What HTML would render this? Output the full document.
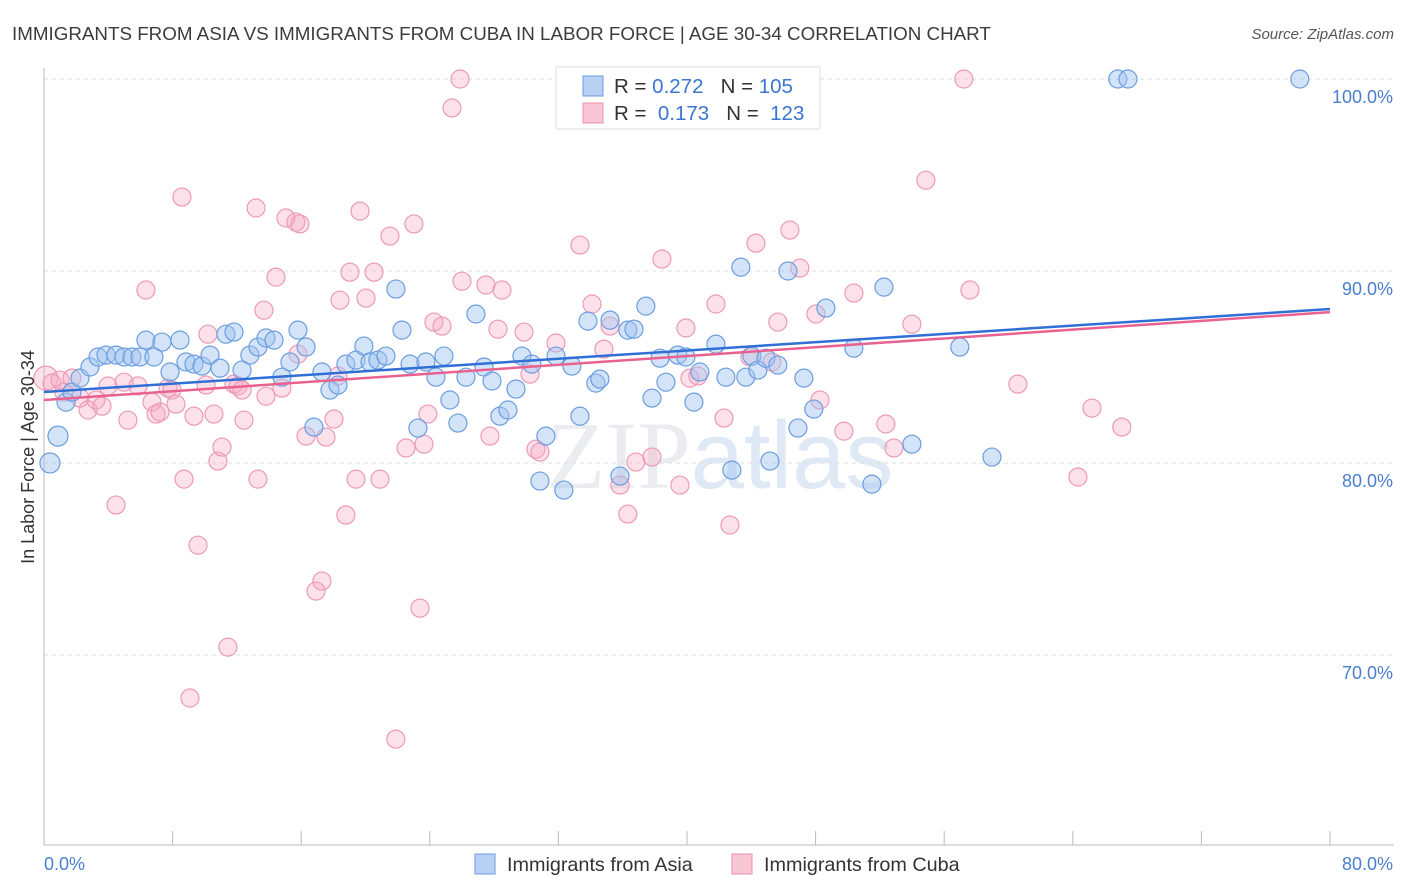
<!DOCTYPE html>
<html><head><meta charset="utf-8"><style>
body{margin:0;background:#fff;font-family:"Liberation Sans",sans-serif;}
#wrap{position:relative;width:1406px;height:892px;overflow:hidden;}
</style></head><body>
<div id="wrap">
<svg id="svg" width="1406" height="892" xmlns="http://www.w3.org/2000/svg">
<text x="12" y="40" font-size="18.8" fill="#3c3c3c">IMMIGRANTS FROM ASIA VS IMMIGRANTS FROM CUBA IN LABOR FORCE | AGE 30-34 CORRELATION CHART</text>
<text x="1394" y="39" font-size="15" fill="#555" font-style="italic" text-anchor="end">Source: ZipAtlas.com</text>
<text x="720" y="488" font-size="96" fill="#eaecef" text-anchor="middle" font-family="Liberation Serif,serif">ZIP<tspan fill="#dfe8f5" font-family="Liberation Sans,sans-serif">atlas</tspan></text>
<g id="grid"></g><g id="axes"></g><g id="pts"></g><g id="trend"></g>
<text transform="translate(34,457) rotate(-90)" font-size="18" fill="#333" text-anchor="middle">In Labor Force | Age 30-34</text>
<g>
<rect x="556" y="67" width="264" height="62" fill="#fff" stroke="#ddd"/>
<rect x="583" y="76" width="20" height="20" fill="#b8d0f3" stroke="#6b9de0"/>
<rect x="583" y="103" width="20" height="20" fill="#f8c6d5" stroke="#e890ad"/>
<text x="614" y="93" font-size="20.5" fill="#333">R = <tspan fill="#3a75d1">0.272</tspan>&#160;&#160;&#160;N = <tspan fill="#3a75d1">105</tspan></text>
<text x="614" y="120" font-size="20.5" fill="#333">R = &#160;<tspan fill="#3a75d1">0.173</tspan>&#160;&#160;&#160;N = &#160;<tspan fill="#3a75d1">123</tspan></text>
</g>
<g>
<rect x="475" y="854" width="20" height="20" fill="#b8d0f3" stroke="#6b9de0"/>
<text x="507" y="871" font-size="19.8" fill="#333">Immigrants from Asia</text>
<rect x="732" y="854" width="20" height="20" fill="#f8c6d5" stroke="#e890ad"/>
<text x="764" y="871" font-size="19.8" fill="#333">Immigrants from Cuba</text>
</g>
</svg>
<script>
const asiaX=[0.37,0.87,1.37,1.74,2.24,2.86,3.36,3.86,4.48,4.98,5.47,5.97,6.34,6.84,7.34,7.84,8.46,8.83,9.33,9.83,10.33,10.95,11.32,11.82,12.32,12.81,13.31,13.81,14.31,14.8,15.3,15.8,16.3,16.79,17.29,17.79,18.29,18.78,19.41,19.9,20.28,20.77,21.27,21.89,22.27,22.77,23.26,23.76,24.38,24.88,25.25,25.75,26.25,26.87,27.37,27.87,28.36,28.86,29.36,29.73,30.35,30.85,31.22,31.85,32.34,32.84,33.34,33.84,34.33,34.58,35.21,35.83,36.32,36.7,37.44,37.82,38.32,38.69,39.43,39.93,40.43,40.8,41.8,42.42,42.79,43.35,43.66,44.04,44.41,44.91,45.16,45.65,46.28,46.9,47.27,47.89,48.64,50.38,51.5,52.25,53.99,56.97,58.97,66.8,67.43,78.12];
const asiaY=[80.0,81.4,83.17,83.69,84.42,85.0,85.52,85.62,85.62,85.52,85.52,85.52,86.4,85.52,86.3,84.74,86.4,85.26,85.15,85.05,85.62,84.94,86.71,86.82,84.84,85.62,86.04,86.51,86.4,84.47,85.26,86.92,86.04,81.87,84.74,83.8,84.06,85.15,85.36,86.09,85.26,85.36,85.57,89.06,86.92,85.15,81.82,85.26,84.47,85.57,83.28,82.08,84.47,87.76,85.0,84.27,82.44,82.76,83.85,85.57,85.15,79.06,81.4,85.57,78.59,85.05,82.44,87.39,84.16,84.37,87.44,79.32,86.92,86.97,88.17,83.38,85.46,84.21,85.62,85.52,83.17,84.74,86.19,84.47,79.63,90.2,84.47,85.57,84.84,85.46,80.1,85.1,90.0,81.82,84.42,82.81,88.07,85.98,78.9,89.16,80.98,86.04,80.31,100,100,100];
const cubaX=[0.12,0.5,1.0,1.24,1.74,2.24,2.74,3.23,3.61,3.98,4.48,4.98,5.22,5.85,6.34,6.72,6.97,7.22,7.71,7.96,8.21,8.58,8.71,9.08,9.33,9.58,10.08,10.2,10.57,10.82,11.07,11.44,11.82,12.07,12.32,12.44,13.19,13.31,13.68,13.81,14.43,14.8,15.05,15.67,15.8,15.92,16.3,16.92,17.29,17.54,18.04,18.29,18.41,18.78,19.03,19.41,19.66,20.03,20.53,20.9,21.52,21.89,22.52,23.01,23.39,23.64,23.88,24.26,24.76,25.38,25.88,26.0,27.49,27.74,28.24,28.49,29.86,30.23,30.6,30.85,31.85,32.47,33.34,34.09,34.83,35.21,35.83,36.32,36.82,37.82,38.44,39.56,39.93,40.18,40.68,41.8,42.3,42.67,43.91,44.29,45.28,45.65,46.4,47.02,48.02,48.27,49.76,50.38,52.37,52.87,53.99,54.86,57.22,57.6,60.58,64.32,65.19,67.05];
const cubaY=[84.42,84.16,84.32,83.69,84.42,83.38,82.76,83.28,82.96,84.01,77.81,84.21,82.23,84.01,89.01,83.17,82.55,82.65,83.9,83.8,83.07,93.85,79.16,67.76,82.44,75.72,84.06,86.71,82.55,80.1,80.83,70.41,84.11,84.01,83.8,82.23,93.28,79.16,87.96,83.48,89.68,83.9,92.76,92.55,85.67,92.45,81.4,73.33,73.85,81.35,82.29,84.53,88.48,77.29,89.94,79.16,93.12,88.59,89.94,79.16,91.82,65.62,80.78,92.45,72.44,80.98,82.55,87.34,87.13,98.49,100,89.47,89.27,81.4,86.97,89.01,86.82,84.63,80.72,80.57,86.25,100,91.35,88.28,85.93,87.13,78.85,77.34,80.05,80.31,90.62,78.85,87.03,84.42,84.53,88.28,82.34,76.77,85.52,91.45,85.26,87.34,92.13,90.15,87.76,83.28,81.66,88.85,82.03,80.78,87.23,94.73,100,89.01,84.11,79.27,82.86,81.87];
const yTicks=[70,80,90,100];
const yTickLabels=["70.0%","80.0%","90.0%","100.0%"];
const xTicks=[0,8,16,24,32,40,48,56,64,72,80];
const xTickLabels=["0.0%","80.0%"];
const asiaTrend=[83.7,88.02];
const cubaTrend=[83.28,87.86];
const NS="http://www.w3.org/2000/svg";
const sx=v=>44+v/80*1286;
const sy=v=>79+(100-v)*19.2;
function mk(tag,attrs,parent){const e=document.createElementNS(NS,tag);for(const k in attrs)e.setAttribute(k,attrs[k]);document.getElementById(parent).appendChild(e);return e;}
yTicks.forEach((t,i)=>{
  const l=mk('line',{x1:44,x2:1394,y1:sy(t),y2:sy(t),stroke:'#ddd','stroke-dasharray':'4,4'},'grid');
  
  
  const tx=mk('text',{x:1393,y:sy(t)+24,'font-size':18,fill:'#4a7fd0','text-anchor':'end'},'grid');
  tx.textContent=yTickLabels[i];
  
  
});
const ya=mk('line',{x1:44,x2:44,y1:68,y2:845,stroke:'#bbb'},'axes');


const xa=mk('line',{x1:44,x2:1394,y1:845,y2:845,stroke:'#bbb'},'axes');


xTicks.forEach(t=>{
  const l=mk('line',{x1:sx(t),x2:sx(t),y1:831,y2:845,stroke:'#bbb'},'axes');
  
  
});
const xl0=mk('text',{x:44,y:870,'font-size':18,fill:'#4a7fd0'},'axes');
xl0.textContent=xTickLabels[0];


const xl1=mk('text',{x:1393,y:870,'font-size':18,fill:'#4a7fd0','text-anchor':'end'},'axes');
xl1.textContent=xTickLabels[1];


cubaX.forEach((x,i)=>{
  const c=mk('circle',{cx:sx(x),cy:sy(cubaY[i]),r:i===0?12:9,fill:'rgba(246,170,195,0.35)',stroke:'#ec9ab5','stroke-width':1.2},'pts');
  
  
});
asiaX.forEach((x,i)=>{
  const c=mk('circle',{cx:sx(x),cy:sy(asiaY[i]),r:i<2?10:9,fill:'rgba(160,195,240,0.45)',stroke:'#6b9de0','stroke-width':1.2},'pts');
  
  
});
const ta=mk('line',{x1:sx(0),x2:sx(80),y1:sy(asiaTrend[0]),y2:sy(asiaTrend[1]),stroke:'#2f6fd6','stroke-width':2.5},'trend');


const tc=mk('line',{x1:sx(0),x2:sx(80),y1:sy(cubaTrend[0]),y2:sy(cubaTrend[1]),stroke:'#e9628f','stroke-width':2.5},'trend');


</script>
</div>
</body></html>
